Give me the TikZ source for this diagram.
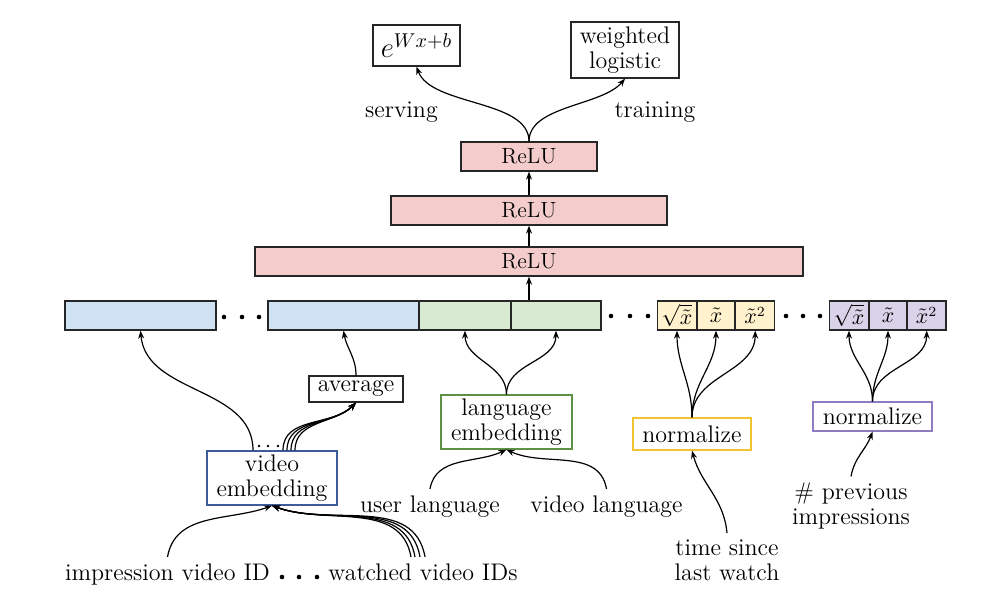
\documentclass[tikz,border=0pt]{standalone}
\usetikzlibrary{arrows.meta}
\definecolor{cblue}{HTML}{CFE2F3}
\definecolor{cgreen}{HTML}{D9EAD3}
\definecolor{cyellow}{HTML}{FFF2CC}
\definecolor{cpurple}{HTML}{D9D2E9}
\definecolor{cpink}{HTML}{F4CCCC}
\definecolor{bblue}{HTML}{3D5C99}
\definecolor{bgreen}{HTML}{5E9145}
\definecolor{byellow}{HTML}{F1C232}
\definecolor{bpurple}{HTML}{8E7CC3}
\begin{document}
\begin{tikzpicture}[x=0.5pt,y=-0.5pt,
  lbl/.style={font=\fontsize{12}{12.5}\selectfont, inner sep=3pt, align=center},
  box/.style={draw=black!85, line width=0.65pt, inner sep=0pt, align=center, font=\fontsize{12}{12.5}\selectfont},
  relu/.style={box, fill=cpink, minimum height=14.5pt, font=\fontsize{11}{12}\selectfont},
  cell/.style={box, minimum height=14.5pt, font=\fontsize{10.5}{12}\selectfont},
  arr/.style={-{Stealth[length=4pt,width=3pt]}, line width=0.6pt},
  dot/.style={fill=black, circle, inner sep=0pt, minimum size=2.3pt},
  sdot/.style={fill=black, circle, inner sep=0pt, minimum size=1.3pt},
]
\useasboundingbox (0,0) rectangle (1001,598);

% output boxes
\node[box, minimum width=43.5pt, minimum height=20.5pt, font=\fontsize{14}{16}\selectfont] (ewx) at (416.5,45.5) {$e^{Wx+b}$};
\node[box, minimum width=54pt, minimum height=28pt] (wl) at (625,50) {weighted\\logistic};
\node[lbl, anchor=base] (serv) at (401.5,118) {serving};
\node[lbl, anchor=base] (train) at (655,118) {training};

% ReLU layers
\node[relu, minimum width=68pt] (r3) at (529,156.5) {ReLU};
\node[relu, minimum width=138pt] (r2) at (529,210.5) {ReLU};
\node[relu, minimum width=274pt] (r1) at (529,261.5) {ReLU};

% embedding row
\node[cell, fill=cblue, minimum width=75.5pt] (b1) at (140.5,315.5) {};
\node[cell, fill=cblue, minimum width=75.5pt] (b2) at (343.5,315.5) {};
\node[cell, fill=cgreen, minimum width=46pt] (g1) at (465,315.5) {};
\node[cell, fill=cgreen, minimum width=45pt] (g2) at (556,315.5) {};
\node[cell, fill=cyellow, minimum width=19.8pt] (y1) at (677,315.5) {$\sqrt{\tilde{x}}$};
\node[cell, fill=cyellow, minimum width=18.6pt] (y2) at (716,315.5) {$\tilde{x}$};
\node[cell, fill=cyellow, minimum width=19.6pt] (y3) at (755.2,315.5) {$\tilde{x}^2$};
\node[cell, fill=cpurple, minimum width=19.8pt] (p1) at (849,315.5) {$\sqrt{\tilde{x}}$};
\node[cell, fill=cpurple, minimum width=18.6pt] (p2) at (888,315.5) {$\tilde{x}$};
\node[cell, fill=cpurple, minimum width=19.2pt] (p3) at (926.7,315.5) {$\tilde{x}^2$};

% row dots
\foreach \i/\x in {1/224,2/242,3/259} \node[dot] (da\i) at (\x,317) {};
\foreach \i/\x in {1/611,2/630,3/648} \node[dot] (db\i) at (\x,316) {};
\foreach \i/\x in {1/786,2/803,3/820} \node[dot] (dc\i) at (\x,316) {};

% feature boxes
\node[box, minimum width=47pt, minimum height=13pt] (avg) at (356,389) {average};
\node[box, draw=bblue, minimum width=65pt, minimum height=27pt] (ve) at (272,478) {video\\embedding};
\node[box, draw=bgreen, minimum width=65.5pt, minimum height=27pt] (le) at (506.5,422) {language\\embedding};
\node[box, draw=byellow, minimum width=59pt, minimum height=16pt] (ny) at (692,434) {normalize};
\node[box, draw=bpurple, minimum width=59.5pt, minimum height=14.5pt] (np) at (872.5,416.5) {normalize};

% small dots above video embedding
\foreach \i/\x in {1/259,2/268,3/278} \node[sdot] (ds\i) at (\x,446) {};

% input labels
\node[lbl, anchor=base] (ul) at (430,512) {user language};
\node[lbl, anchor=base] (vl) at (606.5,512) {video language};
\node[lbl] (tsl) at (727,560) {time since\\last watch};
\node[lbl] (pi) at (851,506) {\# previous\\impressions};
\node[lbl, anchor=base] (imp) at (167.5,580) {impression video ID};
\node[lbl, anchor=base] (wat) at (423,580) {watched video IDs};
\foreach \i/\x in {1/282,2/299,3/317} \node[dot] (dd\i) at (\x,577) {};

% connectors: top
\draw[arr] (r3.north) to[out=90,in=-70,looseness=0.8] (ewx.south);
\draw[arr] (r3.north) to[out=90,in=-130,looseness=0.8] (wl.south);
\draw[arr] (r2.north) -- (r3.south);
\draw[arr] (r1.north) -- (r2.south);
\draw[arr] (r1.south |- g2.north) -- (r1.south);

% video embedding
\draw[arr] ([xshift=-9.5pt]ve.north) to[out=90,in=-85] (b1.south);
\foreach \s in {5.5,7.5,9.5,11.5}
  \draw[arr] ([xshift=\s pt]ve.north) to[out=90,in=-135] (avg.south);
\draw[arr] (avg.north) to[out=90,in=-80] (b2.south);
\draw[arr] (imp.north) to[out=80,in=-160] (ve.south);
\foreach \s in {-6,-4,-1.5,1}
  \draw[arr] ([xshift=\s pt]wat.north) to[out=100,in=-20] (ve.south);

% language embedding
\draw[arr] (le.north) to[out=90,in=-90] (g1.south);
\draw[arr] (le.north) to[out=90,in=-90] (g2.south);
\draw[arr] (ul.north) to[out=80,in=-155] (le.south);
\draw[arr] (vl.north) to[out=100,in=-25] (le.south);

% normalize yellow
\draw[arr] (ny.north) to[out=90,in=-90] (y1.south);
\draw[arr] (ny.north) to[out=90,in=-90] (y2.south);
\draw[arr] (ny.north) to[out=90,in=-90] (y3.south);
\draw[arr] (tsl.north) to[out=95,in=-75] (ny.south);

% normalize purple
\draw[arr] (np.north) to[out=90,in=-90] (p1.south);
\draw[arr] (np.north) to[out=90,in=-90] (p2.south);
\draw[arr] (np.north) to[out=90,in=-90] (p3.south);
\draw[arr] (pi.north) to[out=80,in=-110] (np.south);
\end{tikzpicture}
\end{document}
